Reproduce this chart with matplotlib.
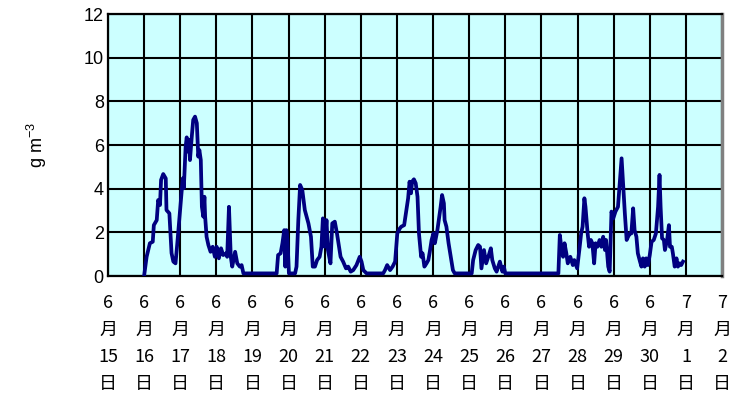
import matplotlib
matplotlib.use("Agg")
from matplotlib import pyplot as plt

# concentration time series (June day number, g m-3)
day = [
    16.00, 16.07, 16.16, 16.24, 16.27, 16.35, 16.39, 16.44, 16.47, 16.53,
    16.60, 16.62, 16.70, 16.76, 16.81, 16.87, 16.92, 16.99, 17.04, 17.07,
    17.10, 17.15, 17.18, 17.21, 17.25, 17.27, 17.32, 17.36, 17.41, 17.46,
    17.50, 17.53, 17.57, 17.60, 17.64, 17.67, 17.69, 17.73, 17.78, 17.84,
    17.90, 17.96, 18.01, 18.07, 18.13, 18.19, 18.27, 18.30, 18.35, 18.40,
    18.44, 18.52, 18.58, 18.65, 18.70, 18.75, 19.67, 19.71, 19.78, 19.83,
    19.88, 19.91, 19.94, 19.97, 20.01, 20.18, 20.22, 20.27, 20.32, 20.38,
    20.45, 20.55, 20.62, 20.67, 20.73, 20.79, 20.86, 20.91, 20.95, 21.00,
    21.05, 21.09, 21.16, 21.21, 21.28, 21.34, 21.44, 21.51, 21.59, 21.65,
    21.72, 21.79, 21.88, 21.97, 22.02, 22.07, 22.16, 22.62, 22.67, 22.73,
    22.81, 22.88, 22.95, 23.01, 23.08, 23.12, 23.20, 23.26, 23.31, 23.35,
    23.39, 23.42, 23.47, 23.52, 23.57, 23.61, 23.67, 23.71, 23.76, 23.82,
    23.87, 23.91, 23.96, 24.01, 24.05, 24.12, 24.16, 24.21, 24.25, 24.30,
    24.32, 24.37, 24.43, 24.51, 24.55, 24.60, 25.07, 25.11, 25.18, 25.25,
    25.30, 25.34, 25.41, 25.47, 25.53, 25.60, 25.64, 25.71, 25.76, 25.85,
    25.92, 25.96, 26.00, 27.47, 27.51, 27.56, 27.60, 27.64, 27.69, 27.73,
    27.80, 27.87, 27.91, 27.99, 28.05, 28.10, 28.14, 28.19, 28.22, 28.28,
    28.32, 28.37, 28.41, 28.46, 28.50, 28.55, 28.61, 28.66, 28.71, 28.76,
    28.79, 28.85, 28.89, 28.94, 28.99, 29.05, 29.12, 29.17, 29.22, 29.26,
    29.31, 29.36, 29.40, 29.45, 29.49, 29.54, 29.58, 29.63, 29.67, 29.73,
    29.77, 29.81, 29.86, 29.90, 29.95, 30.00, 30.05, 30.11, 30.17, 30.23,
    30.27, 30.30, 30.34, 30.39, 30.42, 30.48, 30.53, 30.56, 30.61, 30.64,
    30.69, 30.74, 30.78, 30.83, 30.87, 30.92,
]
conc = [
    0.00, 0.88, 1.50, 1.57, 2.33, 2.56, 3.48, 3.25, 4.40, 4.67,
    4.47, 3.02, 2.87, 1.05, 0.66, 0.58, 1.50, 2.89, 3.94, 4.47,
    4.02, 5.92, 6.35, 5.70, 6.23, 5.31, 6.38, 7.15, 7.30, 7.00,
    5.47, 5.77, 5.31, 3.17, 2.72, 3.63, 2.72, 1.80, 1.42, 1.11,
    1.34, 0.88, 1.34, 0.81, 1.27, 0.96, 1.04, 0.88, 3.17, 0.88,
    0.43, 1.11, 0.58, 0.43, 0.50, 0.12, 0.12, 0.96, 1.04, 1.50,
    2.10, 0.43, 2.10, 1.65, 0.12, 0.12, 0.43, 2.56, 4.17, 3.94,
    3.02, 2.41, 1.80, 0.43, 0.43, 0.73, 0.88, 1.34, 2.64, 1.34,
    2.56, 1.19, 0.58, 2.41, 2.49, 1.95, 0.88, 0.66, 0.35, 0.43,
    0.20, 0.27, 0.50, 0.88, 0.66, 0.27, 0.12, 0.12, 0.27, 0.50,
    0.27, 0.43, 0.66, 1.95, 2.18, 2.26, 2.33, 3.02, 3.56, 4.32,
    3.79, 4.32, 4.43, 4.25, 3.63, 1.95, 0.88, 1.04, 0.43, 0.58,
    0.73, 1.11, 1.65, 1.95, 1.50, 2.10, 2.56, 3.17, 3.71, 3.33,
    2.56, 2.26, 1.50, 0.66, 0.27, 0.12, 0.12, 0.73, 1.19, 1.42,
    1.34, 0.35, 1.19, 0.58, 0.88, 1.27, 0.73, 0.35, 0.20, 0.66,
    0.20, 0.43, 0.12, 0.12, 1.88, 1.19, 0.88, 1.50, 1.04, 0.58,
    0.88, 0.50, 0.73, 0.35, 1.19, 1.95, 2.26, 3.56, 3.17, 1.95,
    1.34, 1.65, 1.50, 0.58, 1.50, 1.34, 1.65, 1.34, 1.80, 1.19,
    1.65, 0.43, 0.20, 2.95, 2.64, 2.95, 3.17, 4.25, 5.39, 4.25,
    2.87, 1.65, 1.80, 1.95, 1.95, 3.10, 2.10, 1.80, 1.04, 0.66,
    0.43, 0.81, 0.43, 0.81, 0.50, 0.96, 1.57, 1.65, 1.95, 3.17,
    4.63, 3.17, 1.73, 1.65, 1.19, 1.65, 2.33, 1.34, 1.34, 1.04,
    0.43, 0.81, 0.43, 0.58, 0.50, 0.66,
]

# x ticks: one per day from 6/15 to 7/2
tick_days = list(range(15, 33))
tick_months = [6] * 16 + [7] * 2
tick_dates = list(range(15, 31)) + [1, 2]
tick_labels = ["%d\n月\n%d\n日" % (m, d) for m, d in zip(tick_months, tick_dates)]
y_ticks = [0, 2, 4, 6, 8, 10, 12]

fig = plt.figure(figsize=(7.33, 3.98), dpi=100)
ax = fig.add_axes([0.1473, 0.3065, 0.8377, 0.6583])
ax.set_facecolor("#CCFFFF")

ax.plot(day, conc, color="#000080", lw=2.7, solid_joinstyle="round", zorder=3)

ax.set_xlim(15, 32)
ax.set_ylim(0, 12)
ax.set_xticks(tick_days)
ax.set_xticklabels(tick_labels, family=["Noto Sans CJK JP", "DejaVu Sans"],
                   fontsize=13, linespacing=1.64)
ax.set_yticks(y_ticks)
ax.set_yticklabels([str(v) for v in y_ticks], family="Liberation Sans", fontsize=13)
ax.tick_params(axis="both", length=0)
ax.tick_params(axis="x", pad=13)
ax.tick_params(axis="y", pad=3)

ax.grid(True, color="black", lw=1.5, zorder=1)
ax.set_axisbelow(True)
for side in ["left", "bottom", "top"]:
    ax.spines[side].set_color("black")
    ax.spines[side].set_linewidth(1.6)
ax.spines["right"].set_color("#808080")
ax.spines["right"].set_linewidth(2.5)

plt.rcParams["mathtext.default"] = "regular"
ax.set_ylabel("g m$^{-3}$", family="Liberation Sans", fontsize=13, labelpad=25)

fig.savefig("out.png", dpi=100)
